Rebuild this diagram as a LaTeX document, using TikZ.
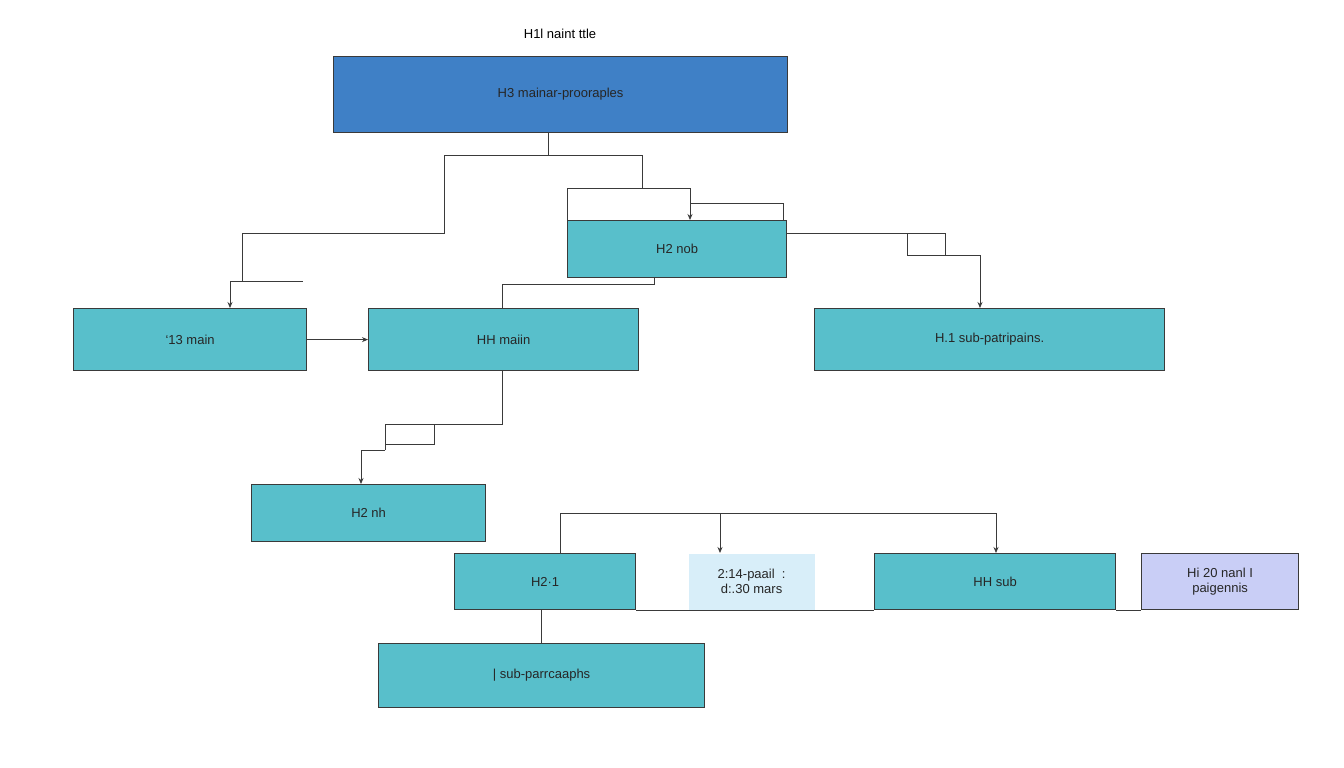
\documentclass[tikz,border=0pt]{standalone}
\usepackage{fontspec}
\setmainfont{Liberation Sans}
\usetikzlibrary{arrows.meta}
\definecolor{teal1}{HTML}{58BFCB}
\definecolor{blue1}{HTML}{3F80C6}
\definecolor{lblue}{HTML}{D8EEF9}
\definecolor{lav}{HTML}{C9CEF6}
\definecolor{ln}{HTML}{3A3A3A}
\begin{document}
\begin{tikzpicture}[x=1pt,y=-1pt,
 box/.style={draw=ln,line width=1.2pt,fill=teal1,anchor=north west,inner sep=0pt,font=\fontsize{13}{15}\selectfont,text=black!85},
 con/.style={draw=ln,line width=0.8pt},
 arr/.style={con,-{Stealth[length=6pt,width=5pt]}}]
\useasboundingbox[fill=white] (0,0) rectangle (1344,768);
\node[font=\fontsize{13}{15}\selectfont] (title) at (560,34) {H1l naint ttle};
\node[box,fill=blue1,minimum width=454pt,minimum height=76pt] (top) at (333,56) {H3 mainar-prooraples};
\node[box,minimum width=219pt,minimum height=57pt] (nob) at (567,220) {H2 nob};
\node[box,minimum width=233pt,minimum height=62pt] (m13) at (73,308) {`13 main};
\node[box,minimum width=270pt,minimum height=62pt] (hm) at (368,308) {HH maiin};
\node[box,minimum width=350pt,minimum height=62pt] (h1s) at (814,308) {H.1 sub-patripains.};
\node[box,minimum width=234pt,minimum height=57pt] (nh) at (251,484) {H2 nh};
\node[box,minimum width=181pt,minimum height=56pt] (h21) at (454,553) {H2·1};
\node[box,draw=none,fill=lblue,minimum width=126pt,minimum height=56pt,align=center] (lb) at (688,553) {2:14-paail \ :\\ d:.30 mars};
\node[box,minimum width=241pt,minimum height=56pt] (hhs) at (874,553) {HH sub};
\node[box,fill=lav,minimum width=157pt,minimum height=56pt,align=center] (lv) at (1141,553) {Hi 20 nanl I\\paigennis};
\node[box,minimum width=326pt,minimum height=64pt] (sp) at (378,643) {| sub-parrcaaphs};
% baseline join
\draw[con,line width=1.2pt] (h21.south east) -- (hhs.south west);
\draw[con,line width=1.2pt] (hhs.south east) -- (lv.south west);
% top connectors
\coordinate (t1) at (548,155);
\draw[con] (top.south -| t1) -- (t1);
\draw[con] (444,155) -- (642,155);
\draw[con] (444,155) -- (444,233) -- (242,233) -- (242,281);
\draw[con] (230,281) -- (303,281);
\draw[arr] (230,281) -- (m13.north -| 230,0);
\draw[con] (642,155) -- (642,188) -- (567,188) -- (567,220);
\draw[arr] (642,188) -- (690,188) -- (nob.north -| 690,0);
\draw[con] (690,203) -- (783,203) -- (783,220);
% nob right
\draw[con] (nob.east |- 0,233) -- (945,233) -- (945,255);
\draw[con] (907,233) -- (907,255) -- (945,255);
\draw[arr] (945,255) -- (980,255) -- (h1s.north -| 980,0);
% nob bottom
\draw[con] (nob.south -| 654,0) -- (654,284) -- (502,284) -- (hm.north -| 502,0);
% m13 -> hm
\draw[arr] (m13.east) -- (hm.west);
% hm bottom
\draw[con] (hm.south -| 502,0) -- (502,424) -- (434,424) -- (434,444) -- (385,444);
\draw[con] (434,424) -- (385,424) -- (385,450);
\draw[arr] (385,450) -- (361,450) -- (nh.north -| 361,0);
% bracket
\draw[con] (560,513) -- (996,513);
\draw[con] (560,513) -- (h21.north -| 560,0);
\draw[arr] (720,513) -- (lb.north -| 720,0);
\draw[arr] (996,513) -- (hhs.north -| 996,0);
% h21 -> sp
\draw[con] (h21.south -| 541,0) -- (sp.north -| 541,0);
\end{tikzpicture}
\end{document}
